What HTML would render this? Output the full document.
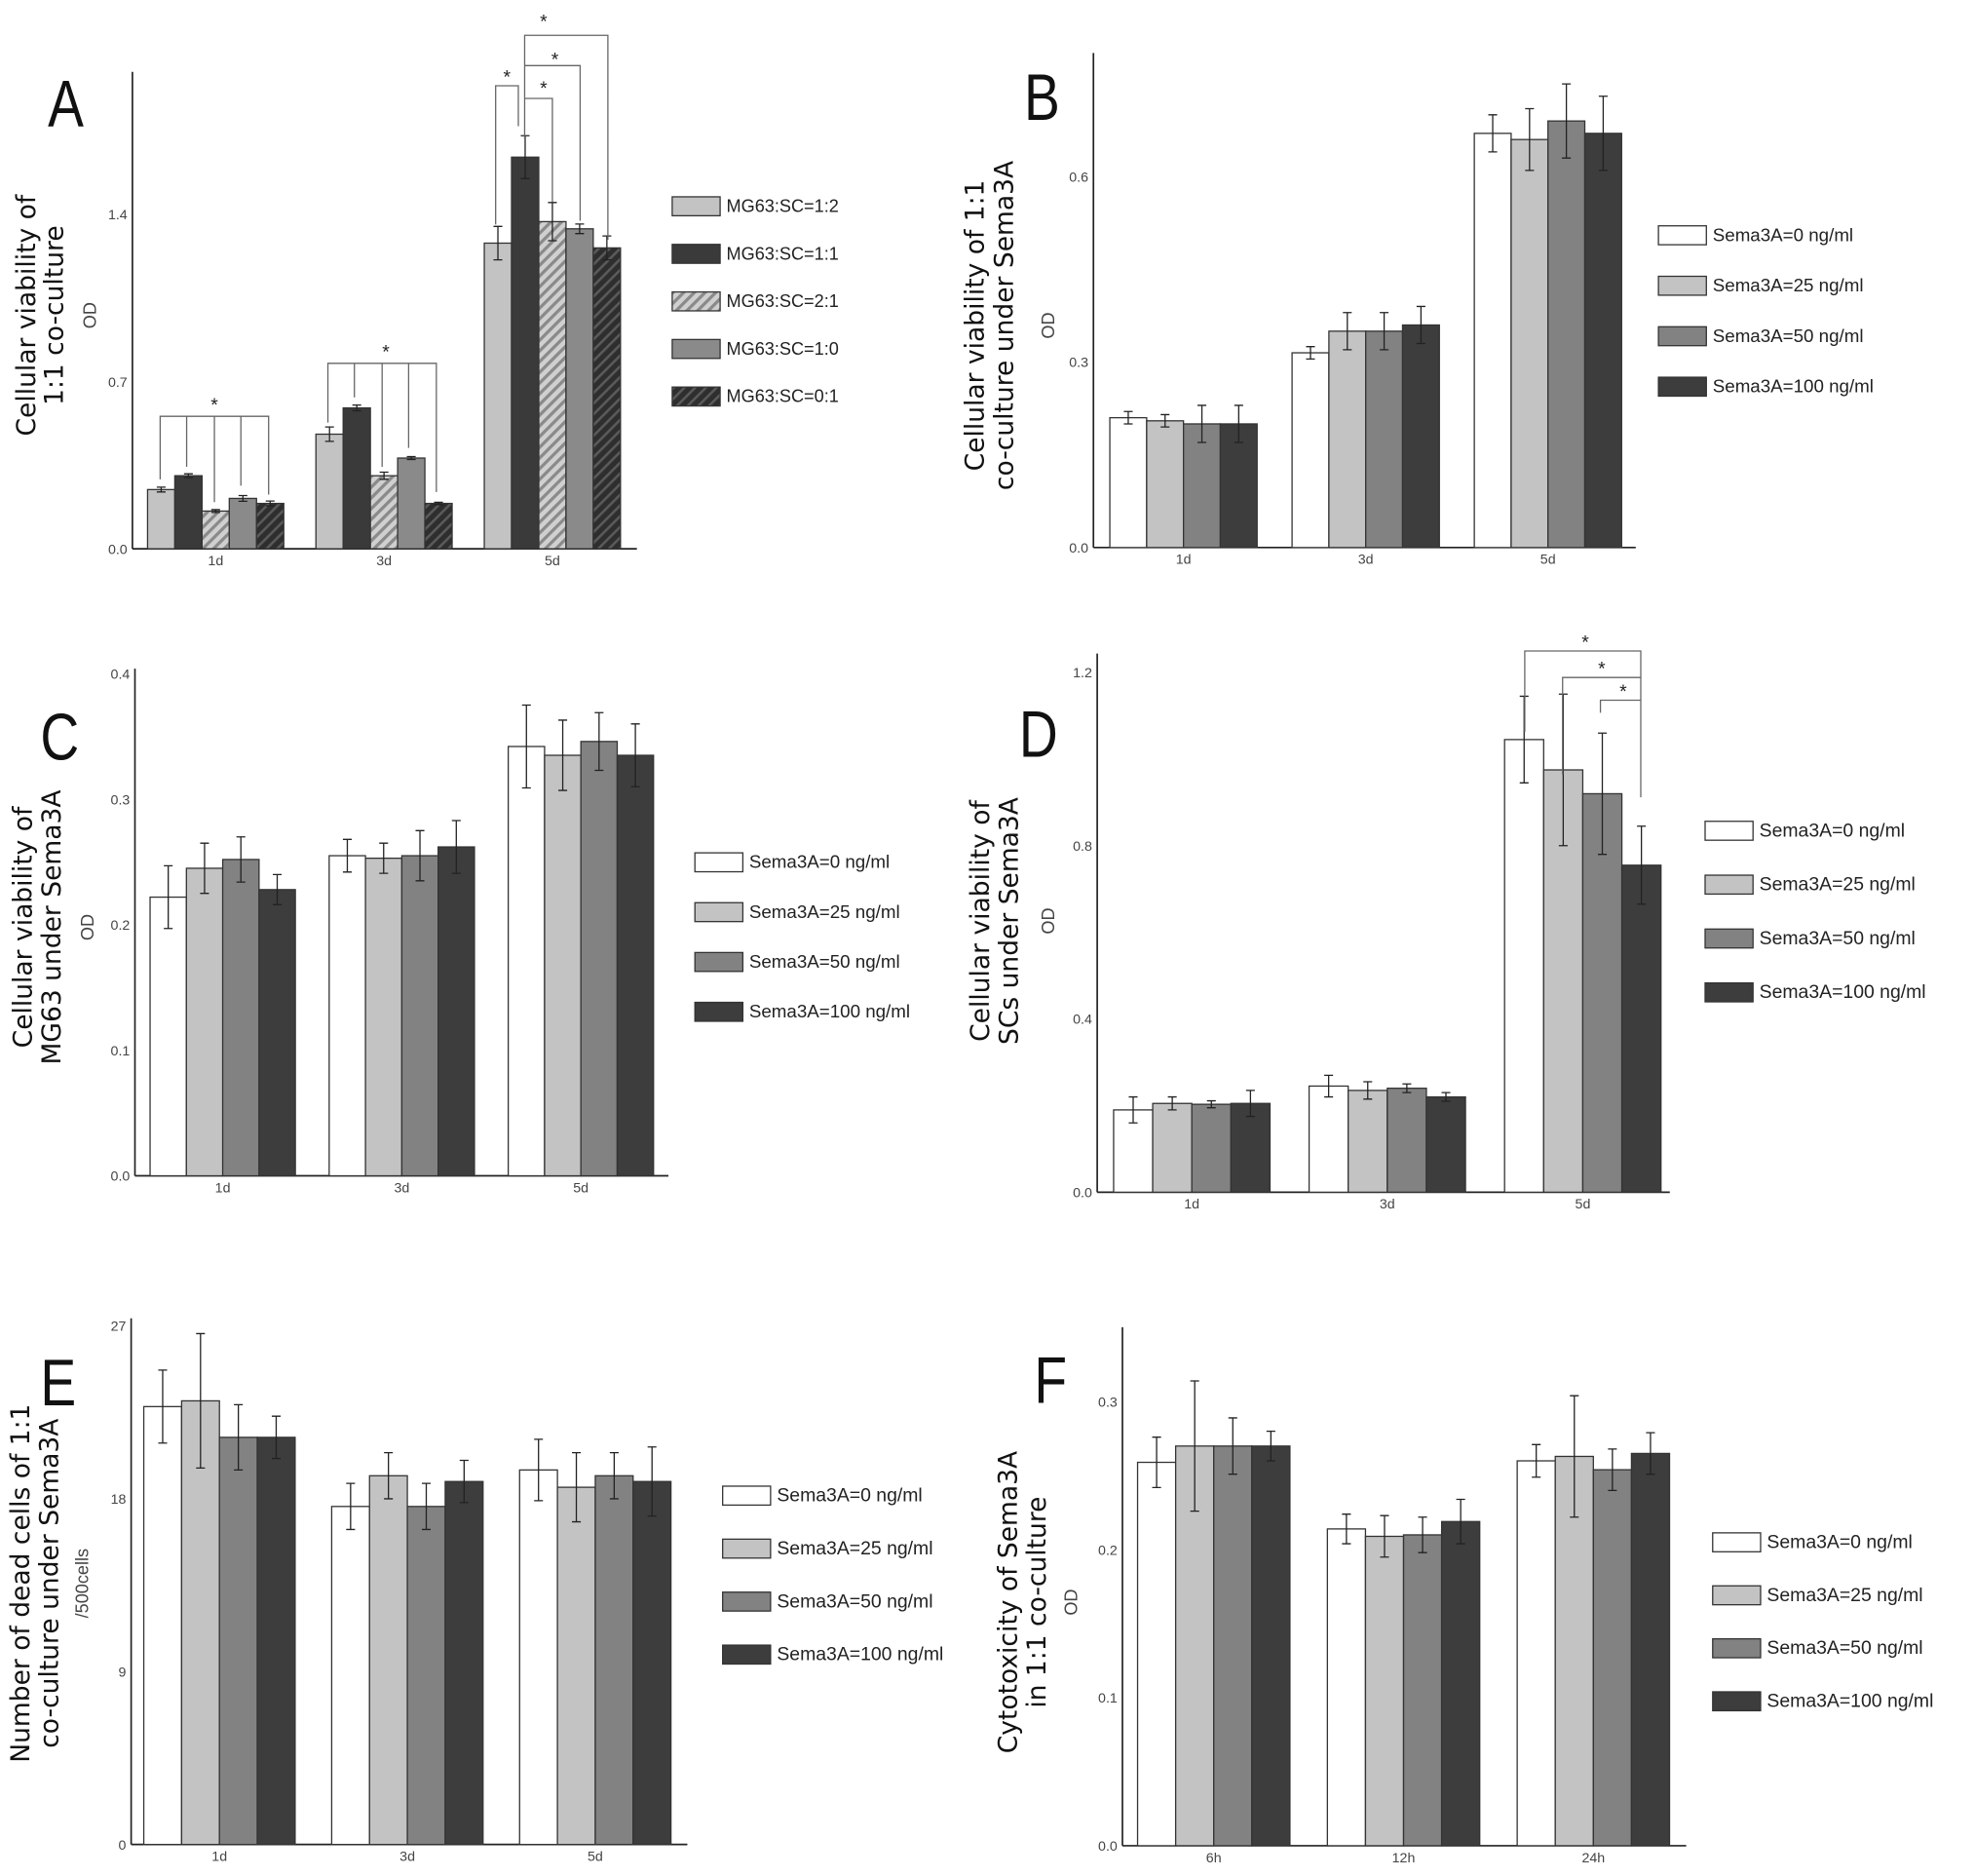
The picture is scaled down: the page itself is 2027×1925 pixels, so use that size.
<!DOCTYPE html>
<html><head><meta charset="utf-8"><style>
html,body{margin:0;padding:0;background:#fff}
svg{display:block}
text{font-family:"Liberation Sans",sans-serif;fill:#222}
.yl{font-family:"DejaVu Sans","Liberation Sans",sans-serif;font-size:20.5px;fill:#111}
.tk{font-size:11px;fill:#444}
.lg{font-size:14.5px;fill:#222}
.let{font-family:"Liberation Sans",sans-serif;font-size:52px;fill:#111}
</style></head><body>
<svg id="fig" width="2027" height="1925" viewBox="0 0 1566 1487" preserveAspectRatio="none" xmlns="http://www.w3.org/2000/svg">
<defs>
<pattern id="hatchL" patternUnits="userSpaceOnUse" width="6" height="6" patternTransform="rotate(45)"><rect width="6" height="6" fill="#d0d0d0"/><rect width="2.5" height="6" fill="#8a8a8a"/></pattern>
<pattern id="hatchD" patternUnits="userSpaceOnUse" width="6" height="6" patternTransform="rotate(45)"><rect width="6" height="6" fill="#2e2e2e"/><rect width="2" height="6" fill="#5a5a5a"/></pattern>
</defs>
</svg>
<script>
// ---------- Panel data ----------
const aCats=["1d","3d","5d"];
const aSeriesNames=["MG63:SC=1:2","MG63:SC=1:1","MG63:SC=2:1","MG63:SC=1:0","MG63:SC=0:1"];
const aVals=[[0.248,0.306,0.158,0.211,0.19],[0.48,0.59,0.306,0.38,0.19],[1.28,1.64,1.37,1.34,1.26]];
const aErr=[[0.01,0.008,0.006,0.012,0.01],[0.03,0.012,0.015,0.006,0.005],[0.07,0.09,0.08,0.02,0.05]];
const aTicks=[0,0.7,1.4];

const semaNames=["Sema3A=0 ng/ml","Sema3A=25 ng/ml","Sema3A=50 ng/ml","Sema3A=100 ng/ml"];

const bCats=["1d","3d","5d"];
const bVals=[[0.21,0.205,0.2,0.2],[0.315,0.35,0.35,0.36],[0.67,0.66,0.69,0.67]];
const bErr=[[0.01,0.01,0.03,0.03],[0.01,0.03,0.03,0.03],[0.03,0.05,0.06,0.06]];
const bTicks=[0,0.3,0.6];

const cCats=["1d","3d","5d"];
const cVals=[[0.222,0.245,0.252,0.228],[0.255,0.253,0.255,0.262],[0.342,0.335,0.346,0.335]];
const cErr=[[0.025,0.02,0.018,0.012],[0.013,0.012,0.02,0.021],[0.033,0.028,0.023,0.025]];
const cTicks=[0,0.1,0.2,0.3,0.4];

const dCats=["1d","3d","5d"];
const dVals=[[0.19,0.205,0.203,0.205],[0.245,0.235,0.24,0.22],[1.045,0.975,0.92,0.755]];
const dErr=[[0.03,0.015,0.008,0.03],[0.025,0.02,0.01,0.01],[0.1,0.175,0.14,0.09]];
const dTicks=[0,0.4,0.8,1.2];

const eCats=["1d","3d","5d"];
const eVals=[[22.8,23.1,21.2,21.2],[17.6,19.2,17.6,18.9],[19.5,18.6,19.2,18.9]];
const eErr=[[1.9,3.5,1.7,1.1],[1.2,1.2,1.2,1.1],[1.6,1.8,1.2,1.8]];
const eTicks=[0,9,18,27];

const fCats=["6h","12h","24h"];
const fVals=[[0.259,0.27,0.27,0.27],[0.214,0.209,0.21,0.219],[0.26,0.263,0.254,0.265]];
const fErr=[[0.017,0.044,0.019,0.01],[0.01,0.014,0.012,0.015],[0.011,0.041,0.014,0.014]];
const fTicks=[0,0.1,0.2,0.3];

const NS="http://www.w3.org/2000/svg";
const svg=document.getElementById('fig');
function mk(tag,attrs,parent){const e=document.createElementNS(NS,tag);for(const k in attrs)e.setAttribute(k,attrs[k]);(parent||svg).appendChild(e);return e;}

function panel(p){
  const g=mk('g',{});
  
  
  const y=v=>p.y0-(v-p.vmin)/(p.vmax-p.vmin)*(p.y0-p.yTop);
  const ya=mk('line',{x1:p.x0,y1:p.axisTop,x2:p.x0,y2:p.y0,stroke:'#222','stroke-width':1.3},g);
  
  const xa=mk('line',{x1:p.x0,y1:p.y0,x2:p.xEnd,y2:p.y0,stroke:'#222','stroke-width':1.3},g);
  
  p.ticks.forEach(t=>{
    const tt=mk('text',{x:p.x0-4,y:y(t)+4,'text-anchor':'end',class:'tk'},g);
    tt.textContent=p.fmt(t);
    
  });
  p.cats.forEach((c,i)=>{
    const gx=p.gStart+i*p.gStep;
    const ns=p.vals[i].length;
    const tl=mk('text',{x:gx+ns*p.bw/2,y:p.y0+13,'text-anchor':'middle',class:'tk'},g);
    tl.textContent=c;
    
    p.vals[i].forEach((v,j)=>{
      const bx=gx+j*p.bw;
      const r=mk('rect',{x:bx,y:y(v),width:p.bw,height:p.y0-y(v),fill:p.fills[j],stroke:'#333','stroke-width':1},g);
      
      
      const e=p.err[i][j],cx=bx+p.bw/2;
      const eb=mk('path',{d:`M${cx},${y(v+e)}V${y(v-e)}M${cx-3.5},${y(v+e)}H${cx+3.5}M${cx-3.5},${y(v-e)}H${cx+3.5}`,stroke:'#222','stroke-width':1,fill:'none'},g);
      
    });
  });
  const yl=mk('text',{transform:`translate(${p.lx},${p.ly}) rotate(-90)`,'text-anchor':'middle',class:'yl'},g);
  
  p.ylab.forEach((l,k)=>{const ts=mk('tspan',{x:0,dy:k?p.ldy:0},yl);ts.textContent=l;});
  const od=mk('text',{transform:`translate(${p.odx},${p.ly}) rotate(-90)`,'text-anchor':'middle',class:'tk',style:'font-size:14px'},g);
  od.textContent=p.od;
  
  const L=mk('text',{transform:`translate(${p.letX},${p.letY}) scale(0.82,1)`,class:'let'},g);L.textContent=p.letter;
  
  p.names.forEach((n,j)=>{
    const ly=p.legY+j*p.legStep;
    const b=mk('rect',{x:p.legX,y:ly-7,width:38,height:15,fill:p.fills[j],stroke:'#333','stroke-width':1},g);
    
    const t=mk('text',{x:p.legX+43,y:ly+5,class:'lg',style:`font-size:${p.legFs}px`},g);
    t.textContent=n;
    
  });
  return y;
}
const semaFills=['#ffffff','#c3c3c3','#828282','#3d3d3d'];
const fmt1=t=>t.toFixed(1);

panel({name:'panel-a',cats:aCats,vals:aVals,err:aErr,ticks:aTicks,fmt:fmt1,vmin:0,vmax:1.4,y0:435,yTop:170,axisTop:57,x0:105,xEnd:505,gStart:117,gStep:133.5,bw:21.6,
 fills:['#c3c3c3','#3a3a3a','url(#hatchL)','#8a8a8a','url(#hatchD)'],names:aSeriesNames,legX:533,legY:163,legStep:37.7,legFs:14,
 ylab:['Cellular viability of','1:1 co-culture'],lx:28,ly:250,ldy:22,odx:76,od:'OD',letX:38,letY:100,letter:'A'});
function br(d){const p=mk('path',{d:d,stroke:'#666','stroke-width':1,fill:'none'});}
function star(x,y){const t=mk('text',{x:x,y:y,'text-anchor':'middle',style:'font-size:15px'});t.textContent='*';}
br('M127,380V330H213V392M148,330V370M170,330V398M191,330V385');star(170,326);
br('M260,335V288H346V390M281,288V315M303,288V370M324,288V355');star(306,284);
br('M393,178V68H411V100');star(402,66);
br('M416,110V28H482V190M416,52H460V175M416,78H438V160');star(431,22);star(440,52);star(431,75);

panel({name:'panel-b',cats:bCats,vals:bVals,err:bErr,ticks:bTicks,fmt:fmt1,vmin:0,vmax:0.6,y0:434,yTop:140,axisTop:42,x0:867,xEnd:1297,gStart:880,gStep:144.5,bw:29.2,
 fills:semaFills,names:semaNames,legX:1315,legY:186,legStep:40,legFs:14.5,
 ylab:['Cellular viability of 1:1','co-culture under Sema3A'],lx:780,ly:258,ldy:23,odx:836,od:'OD',letX:812,letY:95,letter:'B'});

panel({name:'panel-c',cats:cCats,vals:cVals,err:cErr,ticks:cTicks,fmt:fmt1,vmin:0,vmax:0.4,y0:932,yTop:534,axisTop:530,x0:107,xEnd:530,gStart:119,gStep:142,bw:28.8,
 fills:semaFills,names:semaNames,legX:551,legY:683,legStep:39.5,legFs:14.5,
 ylab:['Cellular viability of','MG63 under Sema3A'],lx:25,ly:735,ldy:23,odx:74,od:'OD',letX:32,letY:602,letter:'C'});

panel({name:'panel-d',cats:dCats,vals:dVals,err:dErr,ticks:dTicks,fmt:fmt1,vmin:0,vmax:1.2,y0:945,yTop:533,axisTop:518,x0:870,xEnd:1324,gStart:883,gStep:155,bw:31,
 fills:semaFills,names:semaNames,legX:1352,legY:658,legStep:42.7,legFs:15,
 ylab:['Cellular viability of','SCs under Sema3A'],lx:784,ly:730,ldy:23,odx:836,od:'OD',letX:808,letY:600,letter:'D'});
br('M1209,580V516H1301V632M1239,614V537H1301M1269,565V555H1301');star(1257,514);star(1270,535);star(1287,553);

panel({name:'panel-e',cats:eCats,vals:eVals,err:eErr,ticks:eTicks,fmt:t=>String(t),vmin:0,vmax:27,y0:1462,yTop:1051,axisTop:1045,x0:104,xEnd:545,gStart:114,gStep:149,bw:30,
 fills:semaFills,names:semaNames,legX:573,legY:1185,legStep:42,legFs:15,
 ylab:['Number of dead cells of 1:1','co-culture under Sema3A'],lx:23,ly:1255,ldy:23,odx:70,od:'/500cells',letX:32,letY:1114,letter:'E'});

panel({name:'panel-f',cats:fCats,vals:fVals,err:fErr,ticks:fTicks,fmt:fmt1,vmin:0,vmax:0.3,y0:1463,yTop:1111,axisTop:1052,x0:890,xEnd:1337,gStart:902,gStep:150.5,bw:30.2,
 fills:semaFills,names:semaNames,legX:1358,legY:1222,legStep:42,legFs:15,
 ylab:['Cytotoxicity of Sema3A','in  1:1 co-culture'],lx:806,ly:1270,ldy:23,odx:854,od:'OD',letX:820,letY:1112,letter:'F'});
</script>
</body></html>
